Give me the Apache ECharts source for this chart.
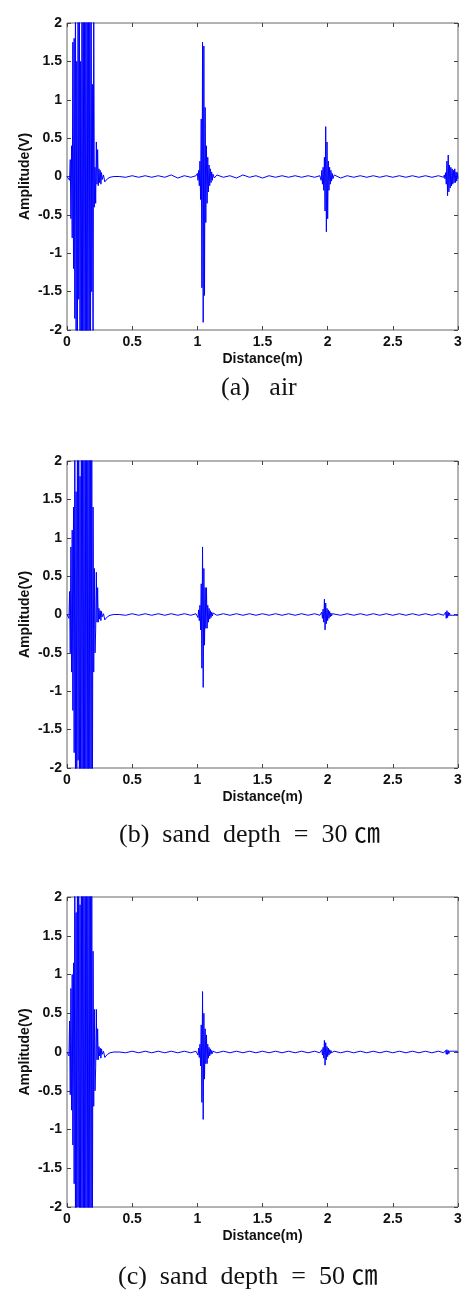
<!DOCTYPE html>
<html lang="en">
<head>
    <meta charset="UTF-8">
    <title>Amplitude vs Distance</title>
    <script src="https://cdn.jsdelivr.net/npm/echarts@6/dist/echarts.min.js"></script>
    <style>
        html, body { margin: 0; padding: 0; background: #fff; }
    </style>
</head>
<body>
<div id="main" style="width:466px;height:1294px"></div>
<script type="text/javascript">
    // distance samples (m), shared by the three panels
    var distance = [
        0, 0.01, 0.015, 0.02, 0.025, 0.03, 0.035, 0.04, 0.045, 0.05,
        0.055, 0.06, 0.065, 0.07, 0.075, 0.08, 0.085, 0.09, 0.095, 0.1,
        0.105, 0.11, 0.115, 0.12, 0.125, 0.13, 0.135, 0.14, 0.145, 0.15,
        0.155, 0.16, 0.165, 0.17, 0.175, 0.18, 0.185, 0.19, 0.195, 0.2,
        0.205, 0.21, 0.215, 0.22, 0.225, 0.23, 0.235, 0.24, 0.245, 0.25,
        0.255, 0.26, 0.265, 0.27, 0.28, 0.29, 0.3, 0.31, 0.33, 0.36,
        0.4, 0.45, 0.5, 0.55, 0.6, 0.65, 0.7, 0.75, 0.8, 0.85, 0.9, 0.95, 0.99,
        1, 1.005, 1.01, 1.015, 1.02, 1.025, 1.03, 1.035, 1.04, 1.045,
        1.05, 1.055, 1.06, 1.065, 1.07, 1.075, 1.08, 1.085, 1.09, 1.095,
        1.1, 1.105, 1.11, 1.115, 1.12,
        1.13, 1.15, 1.2, 1.25, 1.3, 1.35, 1.4, 1.45, 1.5, 1.55, 1.6, 1.65, 1.7, 1.75, 1.8, 1.85, 1.9, 1.94,
        1.945, 1.95, 1.955, 1.96, 1.965, 1.97, 1.975, 1.98, 1.985, 1.99,
        1.995, 2, 2.005, 2.01, 2.015, 2.02, 2.025, 2.03, 2.035, 2.04,
        2.05, 2.1, 2.15, 2.2, 2.25, 2.3, 2.35, 2.4, 2.45, 2.5, 2.55, 2.6, 2.65, 2.7, 2.75, 2.8, 2.85, 2.89,
        2.895, 2.9, 2.905, 2.91, 2.915, 2.92, 2.925, 2.93, 2.935, 2.94,
        2.945, 2.95, 2.955, 2.96, 2.965, 2.97, 2.975, 2.98, 2.985, 2.99,
        2.995, 3
    ];

    // (a) air
    var ampAir = [
        0, 0, 0.02, -0.05, 0.22, -0.55, 0.4, -0.8, 1.75, -1.2,
        1.8, -1.85, 2.5, -2.5, 1.5, -2.6, 2.8, -1.6, 2.9, -2.9,
        1.5, -2.8, 3, -2.2, 2.9, -3, 2.6, -3, 3, -2.7,
        3, -3, 2.8, -3, 3, -2.9, 2.7, -1.5, 1.2, -2.5,
        2.4, -0.4, 0.12, -0.35, 0.45, -0.1, 0.35, -0.12, 0.1, -0.08,
        0.08, -0.1, 0.05, -0.04, 0.02, -0.07, -0.06, -0.03, -0.01, 0,
        0, -0.01, 0.01, -0.01, 0.01, -0.01, 0.01, -0.01, 0.02, -0.02, 0.01, -0.01, 0.01,
        0.04, -0.05, 0.08, -0.12, 0.2, -0.3, 0.75, -1.45, 1.75, -1.9,
        1.7, -1.55, 0.9, -0.6, 0.4, -0.35, 0.25, -0.2, 0.15, -0.12,
        0.1, -0.08, 0.06, -0.05, 0.03,
        -0.02, 0.02, -0.01, 0.01, -0.02, 0.02, -0.01, 0.01, -0.02, 0.01, -0.01, 0.01, -0.01, 0.01, -0.01, 0.01, -0.01, 0.01,
        0.03, -0.05, 0.08, -0.1, 0.12, -0.18, 0.25, -0.45, 0.65, -0.72,
        0.45, -0.55, 0.2, -0.18, 0.12, -0.1, 0.08, -0.06, 0.04, -0.03,
        0.02, -0.02, 0.01, -0.01, 0.01, -0.01, 0.01, -0.01, 0.01, -0.01, 0.01, -0.01, 0.01, -0.01, 0.01, -0.01, 0.01, -0.01,
        0.02, -0.03, 0.05, -0.1, 0.2, -0.25, 0.28, -0.2, 0.15, -0.15,
        0.12, -0.12, 0.1, -0.1, 0.08, -0.08, 0.1, -0.08, 0.06, -0.06,
        0.05, -0.03
    ];

    // (b) sand depth = 30 cm
    var ampSand30 = [
        0, 0.02, -0.05, 0.3, -0.5, 0.88, -0.75, 1.1, -1.25, 1.4,
        -1.8, 2.5, -2.2, 1.6, -2.6, 2.8, -1.9, 2.9, -2.9, 1.8,
        -2.8, 3, -2.4, 2.9, -3, 2.6, -3, 3, -2.7, 3,
        -3, 2.8, -3, 3, -2.9, 2.7, -2.8, 2.4, -2.5, 1.4,
        -0.75, 0.6, -0.5, -0.2, 0.55, -0.1, 0.35, -0.1, 0.08, -0.06,
        0.05, -0.08, 0.04, -0.03, 0.01, -0.07, -0.06, -0.03, -0.01, 0,
        0, -0.01, 0.01, -0.01, 0.01, -0.01, 0.01, -0.01, 0.01, -0.01, 0.01, -0.01, 0.01,
        0.03, -0.04, 0.06, -0.08, 0.12, -0.2, 0.4, -0.7, 0.88, -0.95,
        0.6, -0.4, 0.35, -0.18, 0.35, -0.18, 0.12, -0.1, 0.08, -0.06,
        0.05, -0.04, 0.03, -0.02, 0.02,
        0.01, -0.01, 0.01, -0.01, 0.01, -0.01, 0.01, -0.01, 0.01, -0.01, 0.01, -0.01, 0.01, -0.01, 0.01, -0.01, 0.01, -0.01,
        0.01, -0.02, 0.03, -0.05, 0.07, -0.1, 0.2, -0.2, 0.15, -0.12,
        0.08, -0.08, 0.06, -0.05, 0.04, -0.03, 0.02, -0.02, 0.01, -0.01,
        0.01, -0.01, 0.01, -0.01, 0.01, -0.01, 0.01, -0.01, 0.01, -0.01, 0.01, -0.01, 0.01, -0.01, 0.01, -0.01, 0.01, -0.01,
        0.01, -0.02, 0.03, -0.05, 0.05, -0.04, 0.03, -0.02, 0.02, -0.01,
        0.01, -0.01, 0.01, -0.01, 0.01, -0.01, 0.01, -0.01, 0.01, -0.01,
        0.01, -0.01
    ];

    // (c) sand depth = 50 cm
    var ampSand50 = [
        0, 0.02, -0.05, 0.4, -0.55, 0.82, -0.75, 1, -1.2, 1.15,
        -1.7, 2.4, -2.3, 1.8, -2.6, 2.8, -2, 2.9, -2.9, 1.9,
        -2.8, 3, -2.5, 2.9, -3, 2.7, -3, 3, -2.8, 3,
        -3, 2.8, -3, 3, -2.9, 2.6, -2.8, 2.3, -2.4, 1.3,
        -0.7, 0.55, -0.5, -0.2, 0.55, -0.1, 0.3, -0.1, 0.07, -0.05,
        0.05, -0.08, 0.04, -0.03, 0.01, -0.07, -0.06, -0.03, -0.01, 0,
        0, -0.01, 0.01, -0.01, 0.01, -0.01, 0.01, -0.01, 0.01, -0.01, 0.01, -0.01, 0.01,
        0.03, -0.04, 0.05, -0.07, 0.1, -0.18, 0.35, -0.65, 0.78, -0.87,
        0.5, -0.35, 0.3, -0.15, 0.22, -0.15, 0.1, -0.08, 0.06, -0.05,
        0.04, -0.03, 0.02, -0.02, 0.01,
        0.01, -0.01, 0.01, -0.01, 0.01, -0.01, 0.01, -0.01, 0.01, -0.01, 0.01, -0.01, 0.01, -0.01, 0.01, -0.01, 0.01, -0.01,
        0.01, -0.02, 0.03, -0.04, 0.06, -0.08, 0.15, -0.17, 0.12, -0.1,
        0.07, -0.06, 0.05, -0.04, 0.03, -0.02, 0.02, -0.01, 0.01, -0.01,
        0.01, -0.01, 0.01, -0.01, 0.01, -0.01, 0.01, -0.01, 0.01, -0.01, 0.01, -0.01, 0.01, -0.01, 0.01, -0.01, 0.01, -0.01,
        0.01, -0.01, 0.02, -0.03, 0.03, -0.03, 0.02, -0.02, 0.01, -0.01,
        0.01, -0.01, 0.01, -0.01, 0.01, -0.01, 0.01, -0.01, 0.01, -0.01,
        0.01, -0.01
    ];

    var xTicks = [0, 0.5, 1, 1.5, 2, 2.5, 3];
    var yTicks = [-2, -1.5, -1, -0.5, 0, 0.5, 1, 1.5, 2];
    var captions = ['(a)   air', '(b)  sand  depth  =  30 ㎝', '(c)  sand  depth  =  50 ㎝'];

    var myChart = echarts.init(document.getElementById('main'), null, {renderer: 'canvas'});

    var panels = [
        {amp: ampAir, top: 23, height: 307, capX: 221, capY: 388},
        {amp: ampSand30, top: 461, height: 307, capX: 119, capY: 835},
        {amp: ampSand50, top: 897, height: 310, capX: 118, capY: 1277}
    ];

    var labelFont = {color: '#111', fontFamily: 'Liberation Sans, Arial', fontWeight: 'bold', fontSize: 14};
    var tick = {show: true, inside: true, length: 4, lineStyle: {color: '#444'}};
    var noLine = {show: false, onZero: false};

    var grids = [], xAxes = [], yAxes = [], series = [], graphics = [];
    panels.forEach(function (p, i) {
        grids.push({
            left: 67, right: 8, top: p.top, height: p.height,
            show: true, borderColor: '#666', borderWidth: 1, backgroundColor: 'transparent'
        });
        // bottom & top x axes (matlab style box ticks)
        xAxes.push({
            type: 'value', gridIndex: i, position: 'bottom',
            min: xTicks[0], max: xTicks[xTicks.length - 1], interval: 0.5,
            name: 'Distance(m)', nameLocation: 'middle', nameGap: 22, nameMoveOverlap: false,
            nameTextStyle: labelFont,
            axisLine: noLine, axisTick: tick, splitLine: {show: false},
            axisLabel: Object.assign({margin: 5}, labelFont)
        });
        xAxes.push({
            type: 'value', gridIndex: i, position: 'top',
            min: xTicks[0], max: xTicks[xTicks.length - 1], interval: 0.5,
            axisLine: noLine, axisTick: tick, splitLine: {show: false},
            axisLabel: {show: false}
        });
        yAxes.push({
            type: 'value', gridIndex: i, position: 'left',
            min: yTicks[0], max: yTicks[yTicks.length - 1], interval: 0.5,
            name: 'Amplitude(V)', nameLocation: 'middle', nameGap: 35, nameMoveOverlap: false,
            nameTextStyle: labelFont,
            axisLine: noLine, axisTick: tick, splitLine: {show: false},
            axisLabel: Object.assign({margin: 5}, labelFont)
        });
        yAxes.push({
            type: 'value', gridIndex: i, position: 'right',
            min: yTicks[0], max: yTicks[yTicks.length - 1], interval: 0.5,
            axisLine: noLine, axisTick: tick, splitLine: {show: false},
            axisLabel: {show: false}
        });
        series.push({
            type: 'line', xAxisIndex: i * 2, yAxisIndex: i * 2,
            data: distance.map(function (d, k) { return [d, p.amp[k]]; }),
            showSymbol: false, symbol: 'none', clip: true, silent: true,
            lineStyle: {color: '#0000ff', width: 1}
        });
        graphics.push({
            type: 'text', x: p.capX, y: p.capY,
            style: {
                text: captions[i], fill: '#111',
                font: '26px "Liberation Serif", "Times New Roman", "Noto Sans CJK KR", serif',
                textAlign: 'left', textVerticalAlign: 'middle', align: 'left', verticalAlign: 'middle'
            }
        });
    });

    var option = {
        animation: false,
        backgroundColor: '#fff',
        grid: grids,
        xAxis: xAxes,
        yAxis: yAxes,
        series: series,
        graphic: graphics
    };
    myChart.setOption(option);
</script>
</body>
</html>
